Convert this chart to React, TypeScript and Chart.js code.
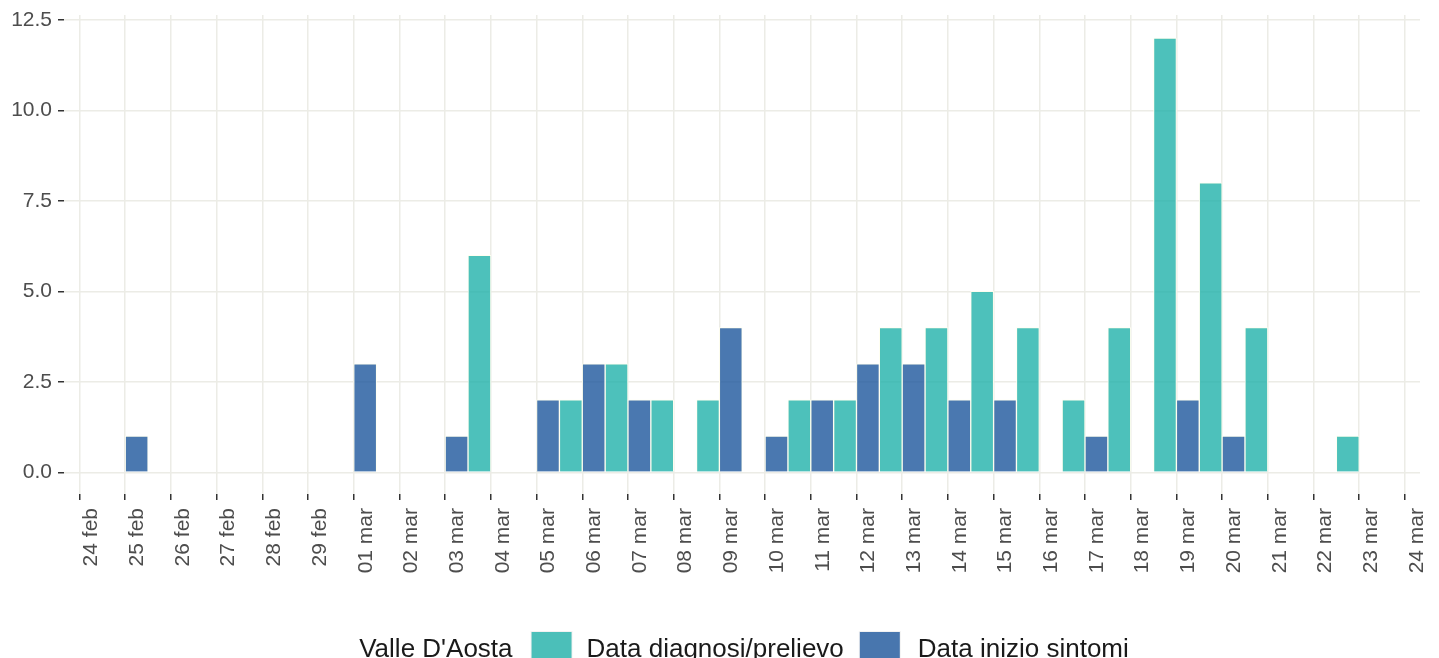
import React, { useEffect, useRef } from "react";
import { Chart, registerables } from "chart.js";

Chart.register(...registerables);

const xLabels = [
  "24 feb", "25 feb", "26 feb", "27 feb", "28 feb", "29 feb",
  "01 mar", "02 mar", "03 mar", "04 mar", "05 mar", "06 mar", "07 mar", "08 mar",
  "09 mar", "10 mar", "11 mar", "12 mar", "13 mar", "14 mar", "15 mar", "16 mar",
  "17 mar", "18 mar", "19 mar", "20 mar", "21 mar", "22 mar", "23 mar", "24 mar",
];

// one value per day, 24 feb .. 23 mar
const inizioSintomi = [0, 1, 0, 0, 0, 0, 3, 0, 1, 0, 2, 3, 2, 0, 4, 1, 2, 3, 3, 2, 2, 0, 1, 0, 2, 1, 0, 0, 0];
const diagnosiPrelievo = [0, 0, 0, 0, 0, 0, 0, 0, 6, 0, 2, 3, 2, 2, 0, 2, 2, 4, 4, 5, 4, 2, 4, 12, 8, 4, 0, 1, 0];

const yTicks = [0, 2.5, 5, 7.5, 10, 12.5];

const legendTitle = "Valle D'Aosta";
const seriesNames = ["Data diagnosi/prelievo", "Data inizio sintomi"];

const TEAL = "rgba(32,178,170,0.8)";
const BLUE = "rgba(29,86,156,0.8)";
const GRID = "#ECECE6";
const TEXT = "#4D4D4D";
const FONT = "'Liberation Sans', Arial, sans-serif";

const legendPlugin = {
  id: "ggLegend",
  afterDraw(chart: any) {
    const ctx = chart.ctx;
    const area = chart.chartArea;
    ctx.save();
    ctx.font = `26px ${FONT}`;
    ctx.textBaseline = "alphabetic";
    ctx.textAlign = "left";
    const boxW = 40;
    const wTitle = ctx.measureText(legendTitle).width;
    const w1 = ctx.measureText(seriesNames[0]).width;
    const w2 = ctx.measureText(seriesNames[1]).width;
    const gaps = [19, 15, 16, 18];
    const total = wTitle + gaps[0] + boxW + gaps[1] + w1 + gaps[2] + boxW + gaps[3] + w2;
    let x = (area.left + area.right) / 2 - total / 2 + 2;
    const boxTop = area.bottom + 138;
    const baseline = area.bottom + 163;
    ctx.fillStyle = "#1a1a1a";
    ctx.fillText(legendTitle, x, baseline);
    x += wTitle + gaps[0];
    ctx.fillStyle = "#F2F2F2";
    ctx.fillRect(x - 1, boxTop - 1, boxW + 2, 42);
    ctx.fillStyle = TEAL;
    ctx.fillRect(x, boxTop, boxW, 40);
    x += boxW + gaps[1];
    ctx.fillStyle = "#1a1a1a";
    ctx.fillText(seriesNames[0], x, baseline);
    x += w1 + gaps[2];
    ctx.fillStyle = "#F2F2F2";
    ctx.fillRect(x - 1, boxTop - 1, boxW + 2, 42);
    ctx.fillStyle = BLUE;
    ctx.fillRect(x, boxTop, boxW, 40);
    x += boxW + gaps[3];
    ctx.fillStyle = "#1a1a1a";
    ctx.fillText(seriesNames[1], x, baseline);
    ctx.restore();
  },
};

export default function App() {
  const canvasRef = useRef<HTMLCanvasElement | null>(null);

  useEffect(() => {
    if (!canvasRef.current) return;
    const chart = new Chart(canvasRef.current, {
      type: "bar",
      data: {
        datasets: [
          {
            label: seriesNames[1],
            data: inizioSintomi.map((v, i) => ({ x: i + 0.5, y: v })),
            backgroundColor: BLUE,
            borderColor: "rgba(255,255,240,0.9)",
            borderWidth: 1,
            barPercentage: 1,
            categoryPercentage: 1,
          },
          {
            label: seriesNames[0],
            data: diagnosiPrelievo.map((v, i) => ({ x: i + 0.5, y: v })),
            backgroundColor: TEAL,
            borderColor: "rgba(255,255,240,0.9)",
            borderWidth: 1,
            barPercentage: 1,
            categoryPercentage: 1,
          },
        ],
      },
      options: {
        animation: false,
        responsive: true,
        maintainAspectRatio: false,
        layout: { padding: { top: 7, right: 11, left: 0, bottom: 0 } },
        plugins: {
          legend: { display: false },
          tooltip: { enabled: false },
        },
        scales: {
          x: {
            type: "linear",
            min: -0.34,
            max: 29.33,
            offset: false,
            grid: {
              offset: false,
              color: GRID,
              lineWidth: 1.5,
              tickColor: "#333333",
              tickLength: 6,
              tickWidth: 1.5,
            },
            border: { display: false },
            afterBuildTicks: (axis: any) => {
              axis.ticks = xLabels.map((_, i) => ({ value: i }));
            },
            afterFit: (axis: any) => {
              axis.height = 164;
              axis.paddingLeft = 0;
              axis.paddingRight = 0;
            },
            ticks: {
              autoSkip: false,
              minRotation: 90,
              maxRotation: 90,
              padding: 8,
              labelOffset: 12,
              color: TEXT,
              font: { family: FONT, size: 21 },
              callback: (v: any) => xLabels[Math.round(Number(v))] ?? "",
            },
          },
          y: {
            type: "linear",
            min: -0.6,
            max: 12.64,
            grid: {
              color: GRID,
              lineWidth: 1.5,
              tickColor: "#333333",
              tickLength: 6,
              tickWidth: 1.5,
            },
            border: { display: false },
            afterBuildTicks: (axis: any) => {
              axis.ticks = yTicks.map((v) => ({ value: v }));
            },
            afterFit: (axis: any) => {
              axis.width = 56;
              axis.paddingTop = 0;
              axis.paddingBottom = 0;
            },
            ticks: {
              padding: 6,
              color: TEXT,
              font: { family: FONT, size: 21 },
              callback: (v: any) => Number(v).toFixed(1),
            },
          },
        },
      },
      plugins: [legendPlugin],
    });
    return () => chart.destroy();
  }, []);

  return (
    <div style={{ position: "relative", width: "100%", height: "650px" }}>
      <canvas ref={canvasRef} />
    </div>
  );
}
